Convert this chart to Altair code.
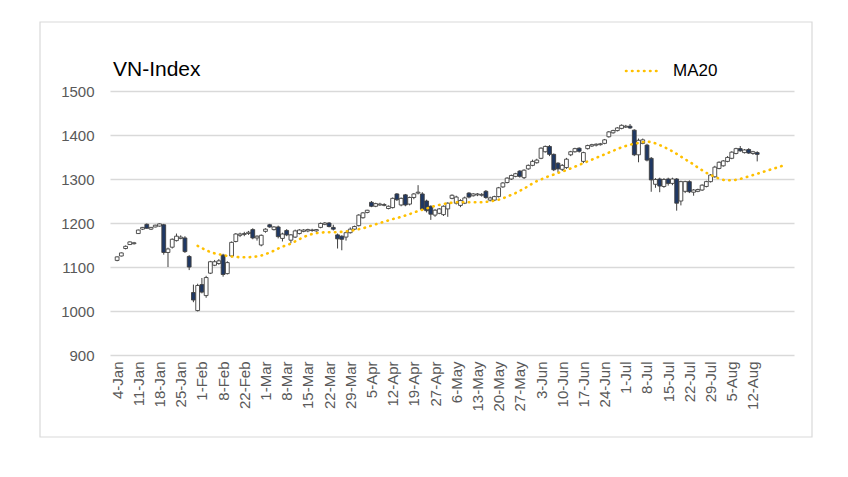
import altair as alt
import pandas as pd

# ---- data ----
tick_labels = ["4-Jan", "11-Jan", "18-Jan", "25-Jan", "1-Feb", "8-Feb", "22-Feb", "1-Mar",
               "8-Mar", "15-Mar", "22-Mar", "29-Mar", "5-Apr", "12-Apr", "19-Apr", "27-Apr",
               "6-May", "13-May", "20-May", "27-May", "3-Jun", "10-Jun", "17-Jun", "24-Jun",
               "1-Jul", "8-Jul", "15-Jul", "22-Jul", "29-Jul", "5-Aug", "12-Aug"]

open_ = [1115, 1125, 1142, 1151, 1153, 1176, 1186, 1197, 1186, 1191,
         1193, 1196, 1133, 1145, 1160, 1165, 1166, 1124, 1042, 1001,
         1060, 1035, 1086, 1104, 1108, 1127, 1085, 1125, 1158, 1172,
         1174, 1176, 1185, 1166, 1150, 1181, 1196, 1185, 1191, 1165,
         1183, 1161, 1168, 1176, 1181, 1182, 1183, 1182, 1190, 1197,
         1200, 1190, 1173, 1170, 1168, 1178, 1186, 1194, 1212, 1224,
         1247, 1238, 1241, 1240, 1233, 1235, 1266, 1241, 1264, 1243,
         1258, 1268, 1266, 1250, 1238, 1218, 1222, 1219, 1232, 1256,
         1245, 1240, 1245, 1268, 1262, 1264, 1263, 1272, 1252, 1252,
         1260, 1282, 1292, 1300, 1306, 1318, 1303, 1323, 1331, 1337,
         1347, 1362, 1374, 1356, 1336, 1322, 1326, 1355, 1362, 1370,
         1340, 1369, 1375, 1377, 1378, 1381, 1396, 1405, 1410, 1415,
         1418, 1420, 1411, 1355, 1381, 1377, 1347, 1288, 1300, 1283,
         1300, 1290, 1300, 1250, 1272, 1294, 1270, 1272, 1275, 1283,
         1294, 1305, 1324, 1330, 1340, 1347, 1358, 1369, 1360, 1367,
         1358, 1360]
high = [1124, 1133, 1149, 1158, 1157, 1185, 1191, 1199, 1191, 1196,
        1199, 1198, 1144, 1165, 1176, 1172, 1170, 1127, 1060, 1062,
        1075, 1080, 1114, 1116, 1118, 1130, 1113, 1158, 1177, 1178,
        1180, 1182, 1188, 1172, 1174, 1188, 1198, 1193, 1194, 1178,
        1186, 1175, 1185, 1186, 1186, 1187, 1187, 1186, 1201, 1202,
        1202, 1196, 1176, 1172, 1180, 1190, 1194, 1220, 1225, 1230,
        1250, 1246, 1246, 1245, 1240, 1258, 1268, 1258, 1266, 1260,
        1268, 1286, 1270, 1253, 1240, 1232, 1234, 1240, 1247, 1265,
        1262, 1254, 1260, 1270, 1268, 1268, 1268, 1275, 1260, 1262,
        1282, 1293, 1304, 1310, 1314, 1320, 1322, 1333, 1344, 1346,
        1372, 1376, 1377, 1358, 1338, 1334, 1348, 1364, 1371, 1372,
        1362, 1378, 1380, 1381, 1382, 1391, 1409, 1412, 1418, 1424,
        1423, 1425, 1413, 1392, 1392, 1380, 1350, 1302, 1303, 1302,
        1303, 1303, 1302, 1296, 1296, 1297, 1277, 1278, 1288, 1296,
        1311, 1330, 1340, 1343, 1352, 1363, 1371, 1375, 1368, 1370,
        1364, 1363]
low = [1113, 1124, 1140, 1150, 1151, 1175, 1184, 1187, 1184, 1190,
       1192, 1128, 1100, 1142, 1158, 1163, 1132, 1093, 1020, 999,
       1040, 1030, 1084, 1102, 1105, 1078, 1083, 1122, 1156, 1168,
       1170, 1173, 1163, 1160, 1147, 1178, 1189, 1183, 1165, 1158,
       1170, 1154, 1166, 1174, 1179, 1179, 1180, 1180, 1188, 1195,
       1190, 1183, 1142, 1138, 1160, 1176, 1184, 1192, 1210, 1222,
       1236, 1236, 1239, 1238, 1231, 1233, 1250, 1238, 1238, 1240,
       1254, 1265, 1228, 1224, 1207, 1214, 1220, 1216, 1214, 1254,
       1242, 1236, 1243, 1256, 1260, 1261, 1260, 1255, 1249, 1250,
       1258, 1280, 1290, 1298, 1304, 1303, 1300, 1321, 1329, 1335,
       1345, 1360, 1352, 1318, 1315, 1318, 1323, 1352, 1360, 1360,
       1336, 1367, 1373, 1374, 1376, 1379, 1394, 1403, 1408, 1413,
       1416, 1414, 1352, 1338, 1379, 1340, 1271, 1280, 1270, 1280,
       1285, 1286, 1228, 1240, 1268, 1268, 1262, 1270, 1273, 1281,
       1292, 1303, 1322, 1328, 1338, 1345, 1356, 1362, 1358, 1357,
       1355, 1340]
close = [1123, 1132, 1147, 1157, 1155, 1184, 1190, 1188, 1190, 1195,
         1198, 1133, 1141, 1163, 1170, 1168, 1135, 1100, 1025, 1058,
         1043, 1076, 1112, 1112, 1114, 1083, 1110, 1156, 1175, 1175,
         1176, 1179, 1166, 1170, 1172, 1186, 1191, 1191, 1169, 1175,
         1173, 1173, 1182, 1184, 1184, 1185, 1184, 1185, 1199, 1200,
         1192, 1186, 1164, 1163, 1178, 1186, 1192, 1218, 1223, 1229,
         1238, 1244, 1243, 1242, 1238, 1256, 1253, 1256, 1241, 1258,
         1266, 1270, 1231, 1228, 1220, 1229, 1232, 1238, 1245, 1263,
         1259, 1251, 1257, 1259, 1266, 1266, 1265, 1258, 1257, 1260,
         1280, 1291, 1302, 1308, 1312, 1306, 1320, 1331, 1340, 1343,
         1370, 1374, 1356, 1321, 1323, 1331, 1345, 1362, 1369, 1363,
         1360, 1376, 1378, 1379, 1380, 1389, 1407, 1410, 1416, 1422,
         1420, 1416, 1355, 1388, 1389, 1343, 1298, 1299, 1284, 1299,
         1290, 1300, 1245, 1294, 1294, 1271, 1275, 1276, 1286, 1294,
         1309, 1327, 1338, 1341, 1349, 1361, 1369, 1364, 1366, 1359,
         1362, 1356]

ma_start = 19
ma20 = [1148, 1143, 1138, 1134, 1131, 1129, 1127, 1125, 1124, 1123,
        1122, 1122, 1122, 1123, 1124, 1126, 1129, 1133, 1137, 1142,
        1146, 1150, 1153, 1158, 1163, 1168, 1172, 1175, 1177, 1178,
        1179, 1179, 1179, 1179, 1180, 1181, 1182, 1184, 1186, 1188,
        1191, 1194, 1197, 1200, 1203, 1206, 1209, 1211, 1214, 1217,
        1220, 1224, 1227, 1230, 1233, 1236, 1239, 1241, 1243, 1245,
        1246, 1247, 1247, 1247, 1247, 1247, 1247, 1247, 1248, 1249,
        1251, 1253, 1256, 1260, 1264, 1268, 1273, 1278, 1284, 1290,
        1295, 1299, 1303, 1307, 1310, 1314, 1317, 1320, 1324, 1328,
        1332, 1336, 1340, 1344, 1348, 1352, 1356, 1360, 1364, 1368,
        1372, 1375, 1378, 1380, 1382, 1384, 1385, 1384, 1381, 1377,
        1373, 1368, 1363, 1357, 1351, 1345, 1339, 1333, 1326, 1320,
        1314, 1309, 1305, 1301, 1298, 1297, 1297, 1298, 1300, 1303,
        1306, 1309, 1312, 1315, 1318, 1321, 1324, 1327, 1330]

n_slots = 159
y_ticks = [900, 1000, 1100, 1200, 1300, 1400, 1500]

# ---- tables ----
candles = pd.DataFrame({"i": list(range(len(close))), "open": open_, "high": high,
                        "low": low, "close": close})
ma_df = pd.DataFrame({"i": list(range(ma_start, ma_start + len(ma20))), "ma": ma20})
one = pd.DataFrame({"k": [0]})

W, H = 684, 264
FONT = "Liberation Sans"
GREY = "#595959"

label_arr = "[" + ",".join("'" + s + "'" for s in tick_labels) + "]"
x_axis = alt.Axis(values=list(range(0, 5 * len(tick_labels), 5)),
                  labelExpr=label_arr + "[round(datum.value/5)]",
                  labelAngle=270, labelPadding=6, labelFontSize=15, labelColor=GREY,
                  labelFont=FONT, ticks=False, domain=False, grid=False, title=None,
                  labelOverlap=False, labelFlush=False)
x_scale = alt.Scale(domain=[-0.5, n_slots - 0.5], nice=False, zero=False)
y_scale = alt.Scale(domain=[900, 1500], nice=False, zero=False)
y_axis = alt.Axis(values=y_ticks, format="d", grid=True, gridColor="#d9d9d9", gridWidth=1.3,
                  domain=False, ticks=False, labelPadding=16, labelFontSize=15,
                  labelColor=GREY, labelFont=FONT, title=None)

X = alt.X("i:Q", scale=x_scale, axis=x_axis)

frame = alt.Chart(one).mark_rect(fill="transparent", stroke="#d9d9d9", strokeWidth=1.2).encode(
    x=alt.value(-70), x2=alt.value(702), y=alt.value(-69), y2=alt.value(346))

title = alt.Chart(one).mark_text(text="VN-Index", align="left", baseline="alphabetic",
                                 fontSize=21, font=FONT, color="#000000").encode(
    x=alt.value(3), y=alt.value(-15))

leg_line = alt.Chart(one).mark_rule(stroke="#FFC000", strokeWidth=2.6, strokeCap="round",
                                    strokeDash=[0.5, 5.5]).encode(
    x=alt.value(516), x2=alt.value(552), y=alt.value(-20))
leg_text = alt.Chart(one).mark_text(text="MA20", align="left", baseline="middle",
                                    fontSize=17, font=FONT, color="#000000").encode(
    x=alt.value(563), y=alt.value(-20))

wicks = alt.Chart(candles).mark_rule(color="#404040", strokeWidth=1).encode(
    x=X,
    y=alt.Y("low:Q", scale=y_scale, axis=y_axis),
    y2="high:Q")

bodies = alt.Chart(candles).mark_bar(size=3.8, stroke="#404040", strokeWidth=0.9).encode(
    x=X,
    y=alt.Y("open:Q", scale=y_scale, axis=y_axis),
    y2="close:Q",
    fill=alt.condition("datum.close >= datum.open", alt.value("#ffffff"), alt.value("#1f3864")))

ma_line = alt.Chart(ma_df).mark_line(color="#FFC000", strokeWidth=2.6, strokeCap="round",
                                     strokeDash=[0.5, 5.5]).encode(
    x=X,
    y=alt.Y("ma:Q", scale=y_scale, axis=y_axis))

chart = alt.layer(frame, title, leg_line, leg_text, wicks, bodies, ma_line).properties(
    width=W, height=H,
    autosize=alt.AutoSizeParams(type="none"),
    padding={"left": 102, "top": 83, "right": 40, "bottom": 100},
    background="#ffffff",
).configure_view(strokeWidth=0)

chart.save("out.html", embed_options={"renderer": "svg", "actions": False})
